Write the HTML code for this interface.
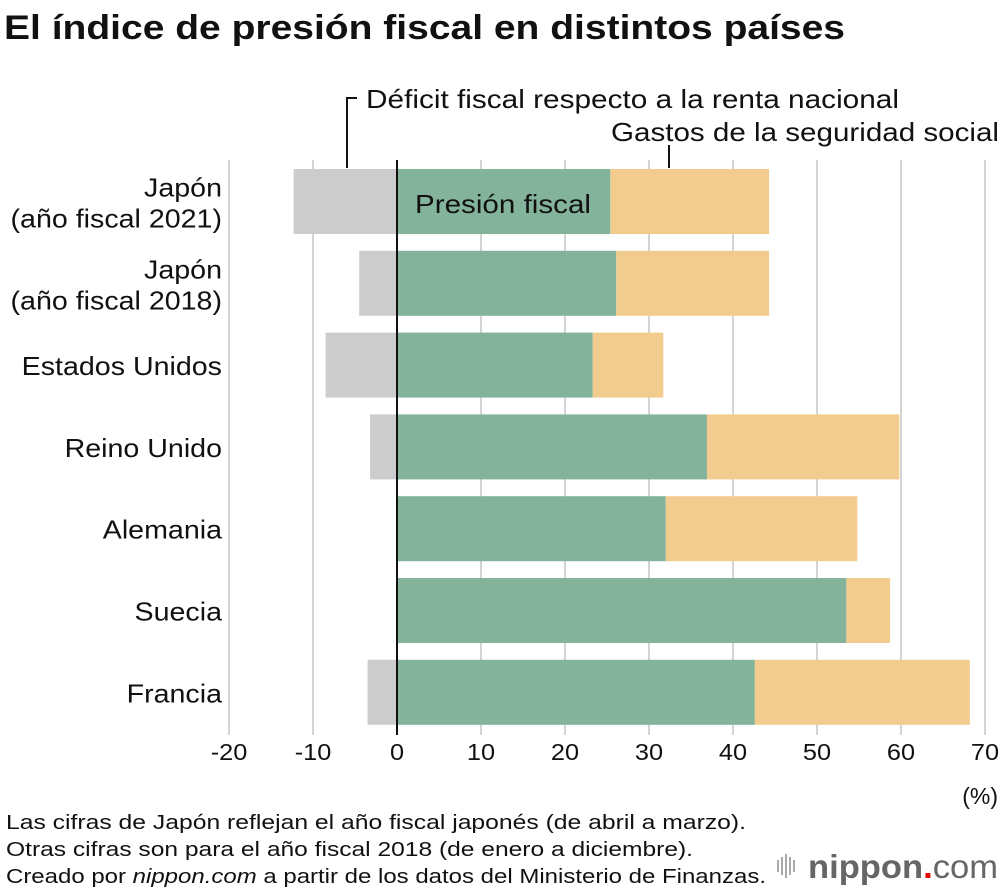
<!DOCTYPE html>
<html><head><meta charset="utf-8">
<style>
body{margin:0;background:#fff;font-family:"Liberation Sans",Arial,sans-serif;}
#wrap{position:relative;width:1000px;height:892px;overflow:hidden;background:#fff;}
</style></head>
<body>
<div id="wrap">
<svg id="chart" width="1000" height="892" xmlns="http://www.w3.org/2000/svg">
<text x="4" y="39" font-size="34" font-weight="bold" fill="#111" textLength="841" lengthAdjust="spacingAndGlyphs">El índice de presión fiscal en distintos países</text>
<g id="grid"></g>
<g id="bars"></g>
<g id="ylabels"></g>
<g id="xticks"></g>
<text x="998" y="804" font-size="23" text-anchor="end" fill="#111">(%)</text>
<polyline points="347,168 347,98 357,98" fill="none" stroke="#111" stroke-width="2"/>
<text x="366" y="108" font-size="26" fill="#111" textLength="533" lengthAdjust="spacingAndGlyphs">Déficit fiscal respecto a la renta nacional</text>
<line x1="669" y1="145" x2="669" y2="168" stroke="#111" stroke-width="2"/>
<text x="611" y="141" font-size="26" fill="#111" textLength="388" lengthAdjust="spacingAndGlyphs">Gastos de la seguridad social</text>
<text x="415" y="213" font-size="26" fill="#111" textLength="176" lengthAdjust="spacingAndGlyphs">Presión fiscal</text>
<text x="6" y="829" font-size="20" fill="#111" textLength="740" lengthAdjust="spacingAndGlyphs">Las cifras de Japón reflejan el año fiscal japonés (de abril a marzo).</text>
<text x="6" y="856" font-size="20" fill="#111" textLength="687" lengthAdjust="spacingAndGlyphs">Otras cifras son para el año fiscal 2018 (de enero a diciembre).</text>
<text x="6" y="883" font-size="20" fill="#111" textLength="760" lengthAdjust="spacingAndGlyphs">Creado por <tspan font-style="italic">nippon.com</tspan> a partir de los datos del Ministerio de Finanzas.</text>
<g>
<g stroke="#aaa" stroke-width="2">
<line x1="778" y1="860" x2="778" y2="872"/><line x1="782" y1="857" x2="782" y2="875"/><line x1="786" y1="854" x2="786" y2="878"/><line x1="790" y1="857" x2="790" y2="875"/><line x1="794" y1="860" x2="794" y2="872"/>
</g>
<text x="808" y="878" font-size="33" fill="#666" font-weight="bold" textLength="190" lengthAdjust="spacingAndGlyphs">nippon<tspan fill="#e00">.</tspan><tspan font-weight="normal">com</tspan></text>
</g>
</svg>
</div>
<script>
const categories=["Japón|(año fiscal 2021)","Japón|(año fiscal 2018)","Estados Unidos","Reino Unido","Alemania","Suecia","Francia"];
const deficit=[-12.3,-4.5,-8.5,-3.2,0,0,-3.5];
const taxBurden=[25.4,26.1,23.3,36.9,32.0,53.5,42.6];
const socialSecurity=[18.9,18.2,8.4,22.9,22.8,5.2,25.6];
const xTicks=[-20,-10,0,10,20,30,40,50,60,70];
const NS="http://www.w3.org/2000/svg";
const x=v=>397+v*8.4;
const rowY=i=>169+i*81.8;
const BH=65;
function mk(tag,attrs,parent){const e=document.createElementNS(NS,tag);for(const k in attrs)e.setAttribute(k,attrs[k]);parent.appendChild(e);return e;}
const grid=document.getElementById('grid'),bars=document.getElementById('bars'),yl=document.getElementById('ylabels'),xt=document.getElementById('xticks');
function widen(t,f){const w=t.getComputedTextLength();t.setAttribute('textLength',w*f);t.setAttribute('lengthAdjust','spacingAndGlyphs');}
xTicks.forEach(t=>{
 if(t!==0){const l=mk('line',{x1:x(t),x2:x(t),y1:160,y2:735,stroke:'#d4d4d4','stroke-width':2},grid);
 
 }
 const tx=mk('text',{x:x(t),y:760,'font-size':23,'text-anchor':'middle',fill:'#111'},xt);
 tx.textContent=t;
 
 
 widen(tx,1.1);
});
categories.forEach((c,i)=>{
 const y=rowY(i);
 if(deficit[i]<0){const r=mk('rect',{x:x(deficit[i]),y:y,width:x(0)-x(deficit[i]),height:BH,fill:'#cccccc'},bars);
 
 }
 const g=mk('rect',{x:x(0),y:y,width:x(taxBurden[i])-x(0),height:BH,fill:'#84b39b'},bars);
 
 
 const s=mk('rect',{x:x(taxBurden[i]),y:y,width:x(taxBurden[i]+socialSecurity[i])-x(taxBurden[i]),height:BH,fill:'#f2cc8f'},bars);
 
 
 const parts=c.split('|');
 if(parts.length===1){
  const t=mk('text',{x:222,y:y+BH/2+10,'font-size':26,'text-anchor':'end',fill:'#111'},yl);
  t.textContent=parts[0];
  
  
  widen(t,1.1);
 } else {
  parts.forEach((p,j)=>{
   const t=mk('text',{x:222,y:y+BH/2-5+j*31,'font-size':26,'text-anchor':'end',fill:'#111'},yl);
   t.textContent=p;
   
   
   widen(t,1.1);
  });
 }
});
const zl=mk('line',{x1:x(0),x2:x(0),y1:160,y2:735,stroke:'#111','stroke-width':2},bars);


</script>
</body></html>
